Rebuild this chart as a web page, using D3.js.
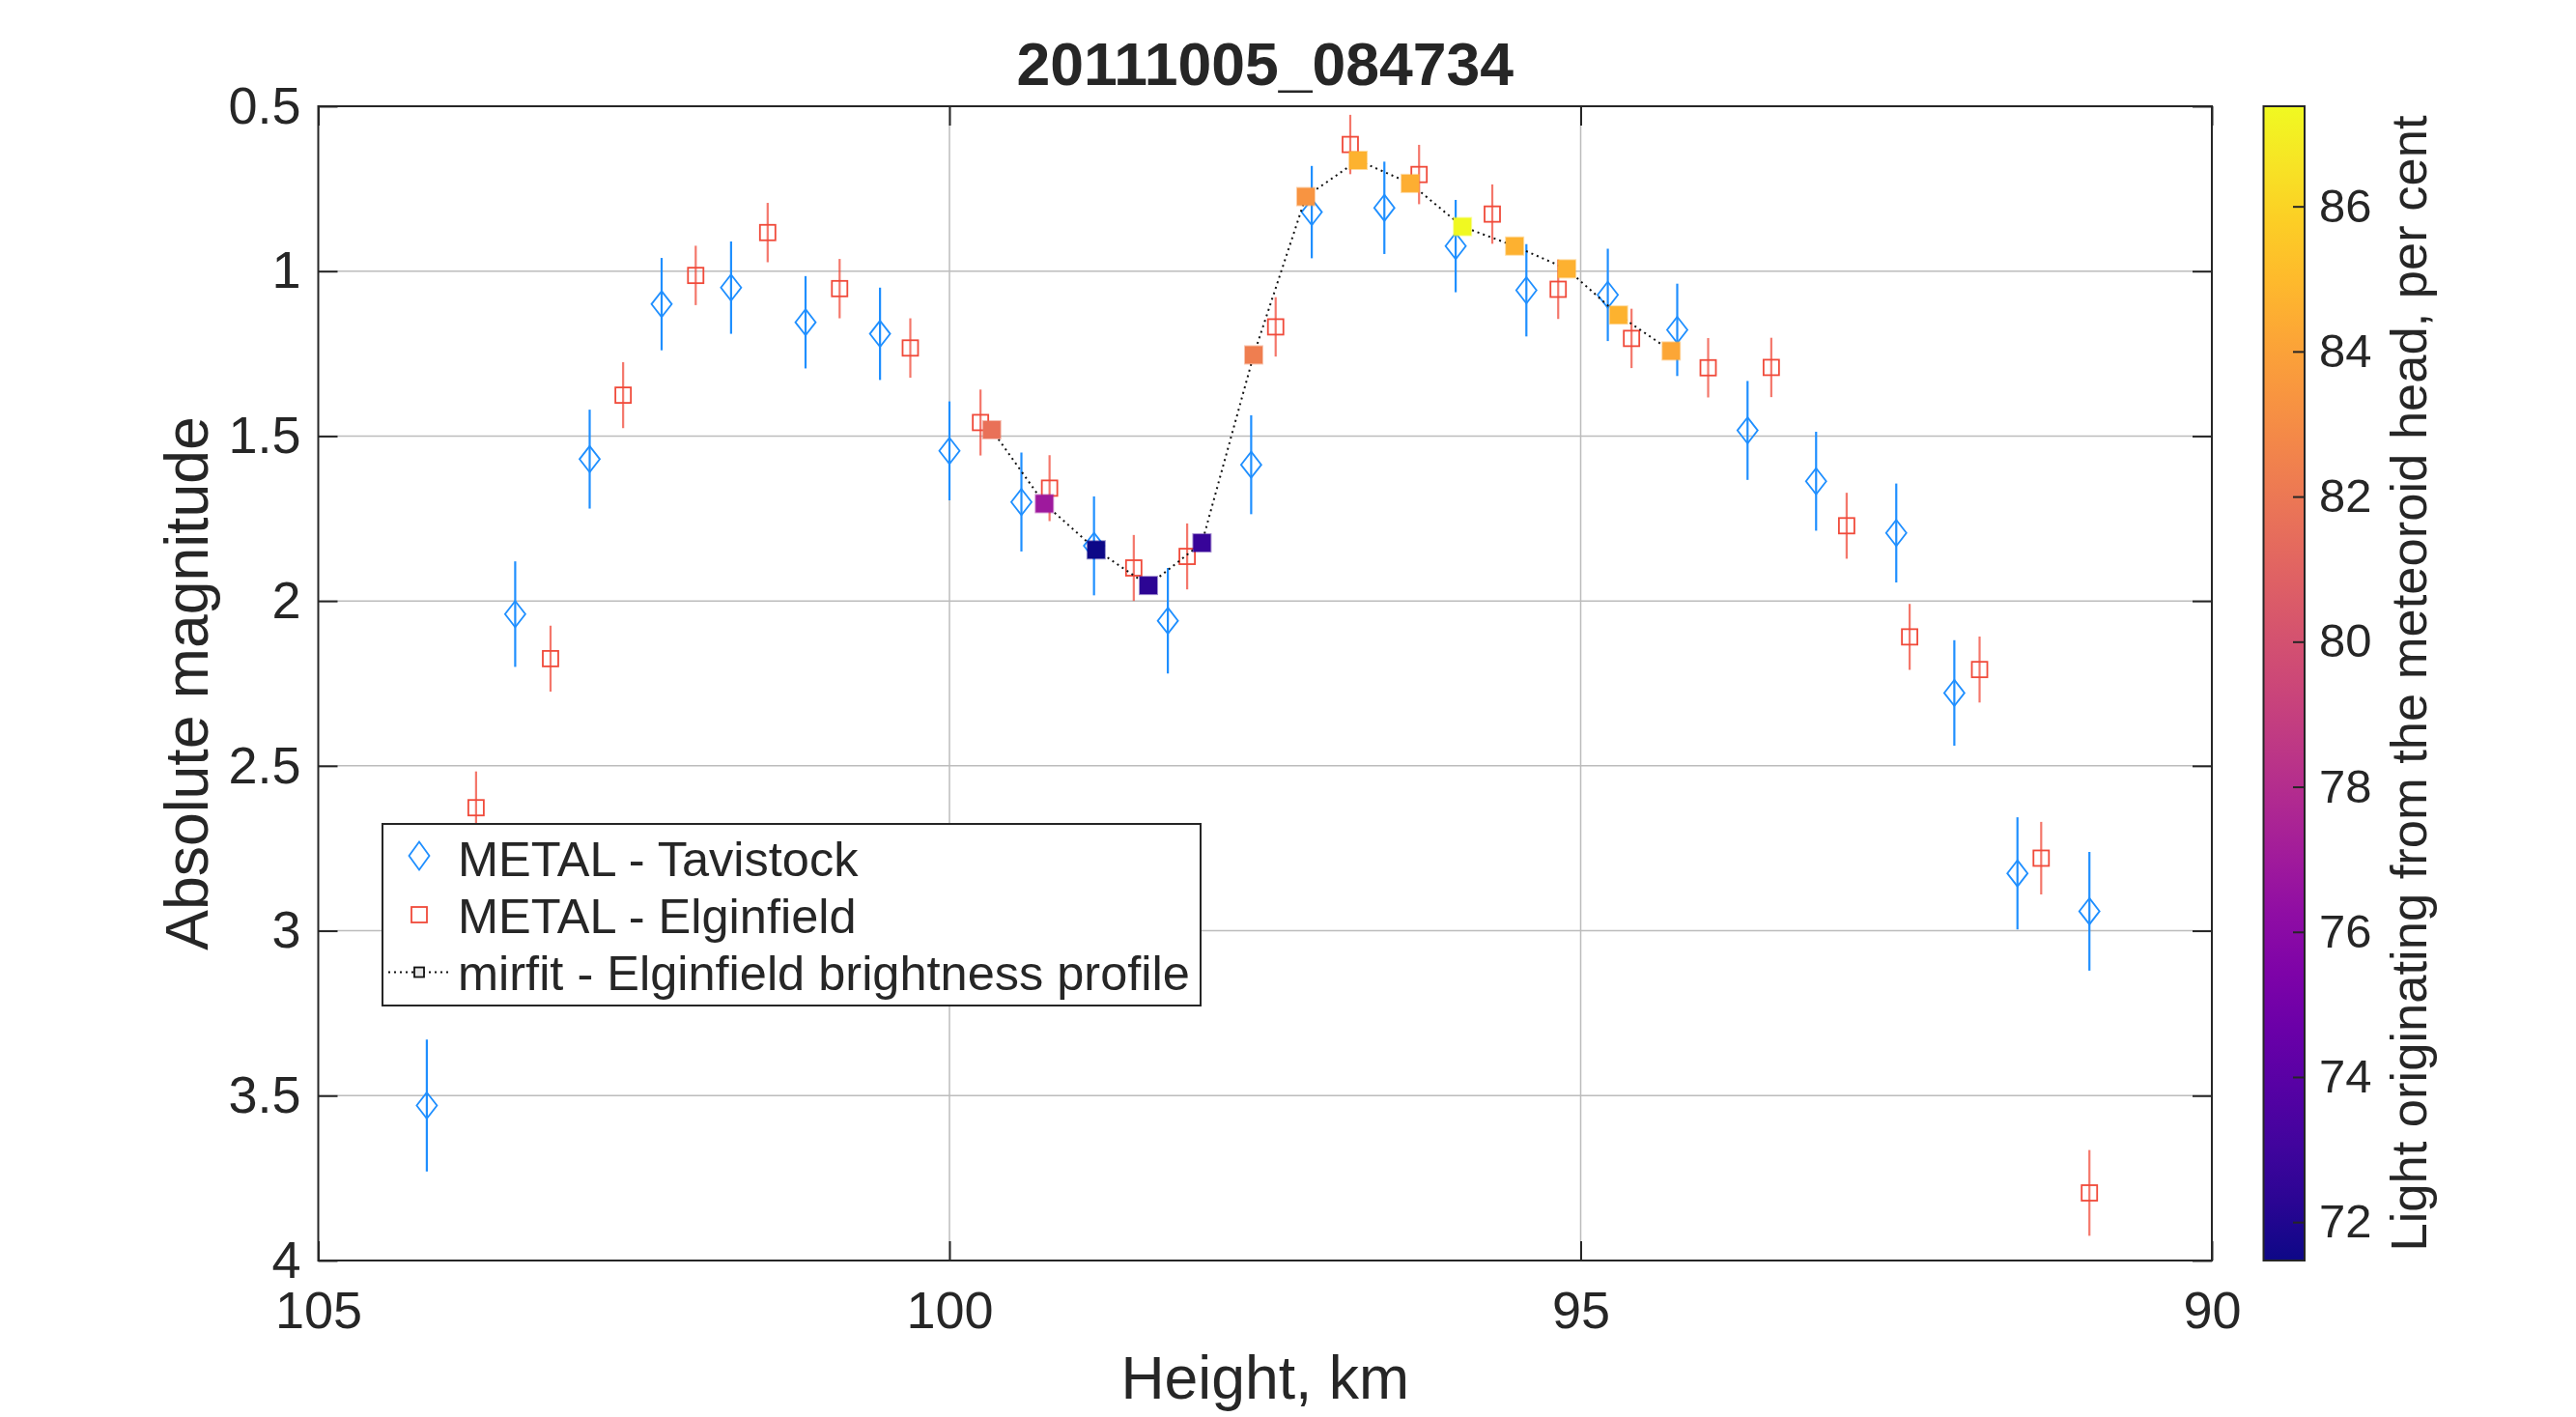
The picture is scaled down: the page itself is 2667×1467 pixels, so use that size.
<!DOCTYPE html>
<html><head><meta charset="utf-8">
<script src="https://cdn.jsdelivr.net/npm/d3@7"></script>
<style>
body{margin:0;background:#fff}
svg{display:block}
text{font-family:"Liberation Sans",Arial,Helvetica,sans-serif;fill:#262626}
</style>
</head><body>
<svg id="chart" width="2667" height="1467"></svg>
<script>
// ---------------- DATA ----------------
const titleText = "20111005_084734";
const xLabel = "Height, km";
const yLabel = "Absolute magnitude";
const cLabel = "Light originating from the meteoroid head, per cent";
const legendLabels = ["METAL - Tavistock", "METAL - Elginfield", "mirfit - Elginfield brightness profile"];

const xTicks = [105, 100, 95, 90];
const yTicks = [0.5, 1, 1.5, 2, 2.5, 3, 3.5, 4];
const yTickLabels = ["0.5", "1", "1.5", "2", "2.5", "3", "3.5", "4"];
const cTicks = [72, 74, 76, 78, 80, 82, 84, 86];
const cRange = [71.47, 87.38];

// METAL - Tavistock
const tavHeight = [104.14, 103.44, 102.85, 102.28, 101.73, 101.14, 100.55, 100.00, 99.43, 98.855, 98.27, 97.61,
                   97.13, 96.555, 95.99, 95.43, 94.785, 94.235, 93.678, 93.135, 92.50, 92.04, 91.54, 90.97];
const tavMag    = [3.53, 2.04, 1.57, 1.10, 1.05, 1.155, 1.19, 1.545, 1.70, 1.833, 2.06, 1.587,
                   0.821, 0.808, 0.924, 1.058, 1.072, 1.178, 1.483, 1.637, 1.794, 2.279, 2.826, 2.941];
const tavErr    = [0.20, 0.16, 0.15, 0.14, 0.14, 0.14, 0.14, 0.15, 0.15, 0.15, 0.16, 0.15,
                   0.14, 0.14, 0.14, 0.14, 0.14, 0.14, 0.15, 0.15, 0.15, 0.16, 0.17, 0.18];

// METAL - Elginfield
const elgHeight = [103.75, 103.16, 102.585, 102.01, 101.44, 100.87, 100.31, 99.754, 99.207, 98.54, 98.117, 97.416,
                   96.825, 96.28, 95.70, 95.178, 94.597, 93.99, 93.49, 92.893, 92.394, 91.84, 91.352, 90.97];
const elgMag    = [2.627, 2.175, 1.376, 1.013, 0.883, 1.053, 1.233, 1.459, 1.658, 1.90, 1.865, 1.169,
                   0.616, 0.707, 0.827, 1.055, 1.204, 1.293, 1.292, 1.772, 2.109, 2.208, 2.78, 3.795];
const elgErr    = [0.11, 0.10, 0.10, 0.09, 0.09, 0.09, 0.09, 0.10, 0.10, 0.10, 0.10, 0.09,
                   0.09, 0.09, 0.09, 0.09, 0.09, 0.09, 0.09, 0.10, 0.10, 0.10, 0.11, 0.13];

// mirfit - Elginfield brightness profile
const mirHeight = [99.665, 99.248, 98.838, 98.424, 98.00, 97.59, 97.177, 96.763, 96.35, 95.936, 95.523, 95.11, 94.70, 94.283];
const mirMag    = [1.481, 1.705, 1.845, 1.953, 1.824, 1.254, 0.774, 0.664, 0.734, 0.865, 0.924, 0.993, 1.133, 1.242];
const mirHead   = [81.7, 76.9, 71.47, 72.3, 72.7, 82.3, 83.4, 84.7, 84.5, 87.38, 84.6, 84.6, 84.7, 84.2];

// ---------------- DRAW ----------------
const tavColor = "#1f8fff";
const elgColor = "#f04a3a";
const axisColor = "#262626";

const svg = d3.select("#chart");
const L = 329.5, R = 2290, T = 110, B = 1305;

const x = d3.scaleLinear().domain([105, 90]).range([L, R]);
const y = d3.scaleLinear().domain([0.5, 4]).range([T, B]);
const color = d3.scaleSequential(d3.interpolatePlasma).domain(cRange);

// grid
const grid = svg.append("g");
grid.selectAll("line.h").data(yTicks.slice(1, -1)).join("line")
  .attr("x1", L).attr("x2", R).attr("y1", d => y(d)).attr("y2", d => y(d))
  .attr("stroke", "#bcbcbc").attr("stroke-width", 1.5);
grid.selectAll("line.v").data(xTicks.slice(1, -1)).join("line")
  .attr("y1", T).attr("y2", B).attr("x1", d => x(d)).attr("x2", d => x(d))
  .attr("stroke", "#bcbcbc").attr("stroke-width", 1.5);

// axes
function styleAxis(g, fs) {
  g.select(".domain").remove();
  g.selectAll(".tick line").attr("stroke", axisColor).attr("stroke-width", 2);
  g.selectAll(".tick text").attr("fill", axisColor).attr("font-size", fs)
    .attr("font-family", '"Liberation Sans",Arial,Helvetica,sans-serif');
}
svg.append("g").attr("transform", `translate(0,${B})`)
  .call(d3.axisBottom(x).tickValues(xTicks).tickSize(-20).tickPadding(32).tickFormat(d3.format("d")))
  .call(g => styleAxis(g, 54));
svg.append("g").attr("transform", `translate(0,${T})`)
  .call(d3.axisTop(x).tickValues(xTicks).tickSize(-20).tickFormat(""))
  .call(g => styleAxis(g, 54));
svg.append("g").attr("transform", `translate(${L},0)`)
  .call(d3.axisLeft(y).tickValues(yTicks).tickSize(-20).tickPadding(18).tickFormat((d, i) => yTickLabels[i]))
  .call(g => styleAxis(g, 54));
svg.append("g").attr("transform", `translate(${R},0)`)
  .call(d3.axisRight(y).tickValues(yTicks).tickSize(-20).tickFormat(""))
  .call(g => styleAxis(g, 54));

svg.append("rect").attr("x", L).attr("y", T).attr("width", R - L).attr("height", B - T)
  .attr("fill", "none").attr("stroke", axisColor).attr("stroke-width", 2);

// data layer
const plot = svg.append("g");
const diamond = (cx, cy, w, h) => `M${cx},${cy - h}L${cx + w},${cy}L${cx},${cy + h}L${cx - w},${cy}Z`;

// Tavistock
const tav = tavHeight.map((h, i) => ({h, m: tavMag[i], e: tavErr[i]}));
plot.append("g").selectAll("line").data(tav).join("line")
  .attr("x1", d => x(d.h)).attr("x2", d => x(d.h))
  .attr("y1", d => y(d.m - d.e)).attr("y2", d => y(d.m + d.e))
  .attr("stroke", tavColor).attr("stroke-width", 2.2);
plot.append("g").selectAll("path").data(tav).join("path")
  .attr("d", d => diamond(x(d.h), y(d.m), 10.5, 13.5))
  .attr("fill", "none").attr("stroke", tavColor).attr("stroke-width", 1.8);

// Elginfield
const elg = elgHeight.map((h, i) => ({h, m: elgMag[i], e: elgErr[i]}));
plot.append("g").selectAll("line").data(elg).join("line")
  .attr("x1", d => x(d.h)).attr("x2", d => x(d.h))
  .attr("y1", d => y(d.m - d.e)).attr("y2", d => y(d.m + d.e))
  .attr("stroke", elgColor).attr("stroke-opacity", 0.75).attr("stroke-width", 2.2);
plot.append("g").selectAll("rect").data(elg).join("rect")
  .attr("x", d => x(d.h) - 8).attr("y", d => y(d.m) - 8).attr("width", 16).attr("height", 16)
  .attr("fill", "none").attr("stroke", elgColor).attr("stroke-width", 1.8);

// mirfit
const mir = mirHeight.map((h, i) => ({h, m: mirMag[i], c: mirHead[i]}));
plot.append("path").datum(mir)
  .attr("d", d3.line().x(d => x(d.h)).y(d => y(d.m)))
  .attr("fill", "none").attr("stroke", "#111").attr("stroke-width", 2).attr("stroke-dasharray", "2,4");
plot.append("g").selectAll("rect").data(mir).join("rect")
  .attr("x", d => x(d.h) - 9).attr("y", d => y(d.m) - 9).attr("width", 18).attr("height", 18)
  .attr("fill", d => color(d.c)).attr("stroke", d => color(d.c)).attr("stroke-opacity", 0.45).attr("stroke-width", 2);

// title and labels
svg.append("text").attr("x", (L + R) / 2).attr("y", 88).attr("text-anchor", "middle")
  .attr("font-size", 62.5).attr("font-weight", "bold").attr("fill", "#000").text(titleText);
svg.append("text").attr("x", (L + R) / 2).attr("y", 1448).attr("text-anchor", "middle")
  .attr("font-size", 62.5).text(xLabel);
svg.append("text").attr("transform", `translate(215,${(T + B) / 2}) rotate(-90)`).attr("text-anchor", "middle")
  .attr("font-size", 62.5).text(yLabel);

// legend
const lg = svg.append("g");
lg.append("rect").attr("x", 396).attr("y", 853).attr("width", 847).attr("height", 188)
  .attr("fill", "#fff").attr("stroke", axisColor).attr("stroke-width", 2);
const rowY = [886, 947, 1006.5];
lg.append("path").attr("d", diamond(434, rowY[0], 10.5, 14.5)).attr("fill", "none").attr("stroke", tavColor).attr("stroke-width", 1.8);
lg.append("rect").attr("x", 426).attr("y", rowY[1] - 8).attr("width", 16).attr("height", 16)
  .attr("fill", "none").attr("stroke", elgColor).attr("stroke-width", 1.8);
lg.append("line").attr("x1", 402).attr("x2", 464).attr("y1", rowY[2]).attr("y2", rowY[2])
  .attr("stroke", "#111").attr("stroke-width", 2).attr("stroke-dasharray", "2,4");
lg.append("rect").attr("x", 429).attr("y", rowY[2] - 5).attr("width", 10).attr("height", 10)
  .attr("fill", "#e6e6e6").attr("stroke", "#111").attr("stroke-width", 1.8);
lg.selectAll("text").data(legendLabels).join("text")
  .attr("x", 474).attr("y", (d, i) => [907, 966, 1025][i])
  .attr("font-size", 50.5).attr("fill", "#000").text(d => d);

// colorbar
const cbL = 2343.5, cbR = 2386;
const cy = d3.scaleLinear().domain(cRange).range([B, T]);
const defs = svg.append("defs");
const grad = defs.append("linearGradient").attr("id", "cbgrad")
  .attr("x1", 0).attr("y1", 1).attr("x2", 0).attr("y2", 0);
d3.range(0, 1.0001, 0.05).forEach(t => {
  grad.append("stop").attr("offset", t).attr("stop-color", d3.interpolatePlasma(t));
});
svg.append("rect").attr("x", cbL).attr("y", T).attr("width", cbR - cbL).attr("height", B - T)
  .attr("fill", "url(#cbgrad)").attr("stroke", axisColor).attr("stroke-width", 2);
svg.append("g").attr("transform", `translate(${cbR},0)`)
  .call(d3.axisRight(cy).tickValues(cTicks).tickSize(-12).tickPadding(15).tickFormat(d3.format("d")))
  .call(g => styleAxis(g, 49));
svg.append("text").attr("transform", `translate(2512,${(T + B) / 2}) rotate(-90)`).attr("text-anchor", "middle")
  .attr("font-size", 52.5).text(cLabel);
</script>
</body></html>
